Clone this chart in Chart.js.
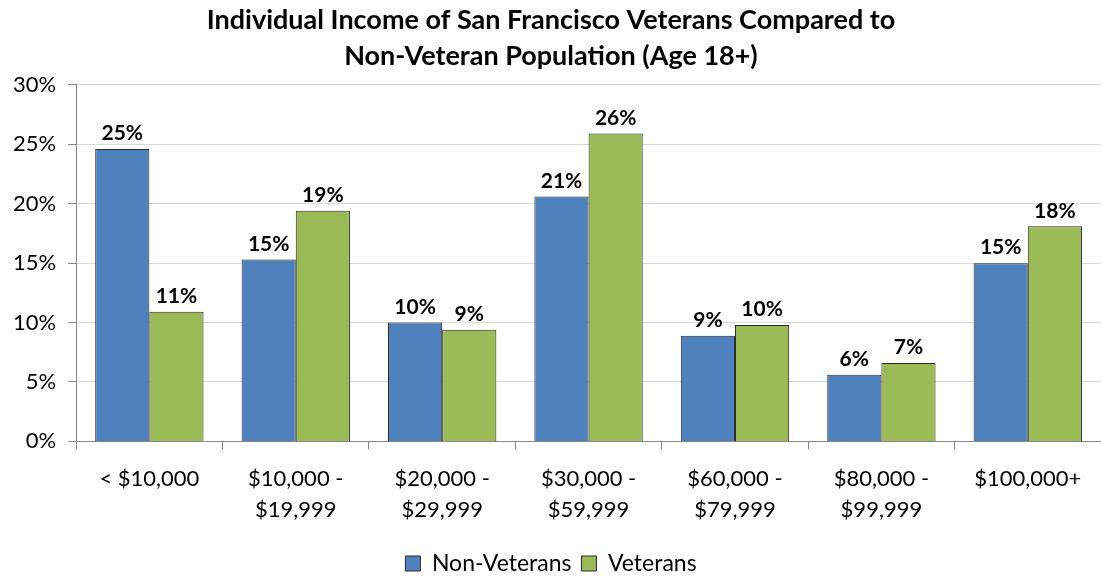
<!DOCTYPE html>
<html>
<head>
<meta charset="utf-8">
<script src="https://cdn.jsdelivr.net/npm/chart.js@4"></script>
<style>
  html, body { margin: 0; padding: 0; background: #fff; }
  #wrap { width: 1101px; height: 577px; }
</style>
</head>
<body>
<div id="wrap"><canvas id="incomeChart"></canvas></div>
<script>
// income brackets and share of each population (%)
const brackets = [
    "< $10,000",
    ["$10,000 -", "$19,999"],
    ["$20,000 -", "$29,999"],
    ["$30,000 -", "$59,999"],
    ["$60,000 -", "$79,999"],
    ["$80,000 -", "$99,999"],
    "$100,000+"
];
const nonVeterans = [24.6, 15.3, 10.0, 20.6, 8.9, 5.6, 15.0];
const veterans = [10.9, 19.4, 9.4, 25.9, 9.8, 6.6, 18.1];
const yTicks = [0, 5, 10, 15, 20, 25, 30];

const FONT = "Lato, 'Open Sans', sans-serif";

// write the rounded percentage above each bar
const barLabels = {
    id: "barLabels",
    afterDatasetsDraw(chart) {
        const ctx = chart.ctx;
        ctx.save();
        ctx.font = "bold 21px " + FONT;
        ctx.fillStyle = "#000";
        ctx.textAlign = "center";
        ctx.textBaseline = "bottom";
        chart.data.datasets.forEach((ds, i) => {
            chart.getDatasetMeta(i).data.forEach((bar, j) => {
                ctx.fillText(Math.round(ds.data[j]) + "%", bar.x, bar.y - 5);
            });
        });
        ctx.restore();
    }
};

const ctx = document.getElementById("incomeChart").getContext("2d");
new Chart(ctx, {
    type: "bar",
    data: {
        labels: brackets,
        datasets: [{
            label: "Non-Veterans",
            data: nonVeterans,
            backgroundColor: "#4F81BD",
            borderColor: "#2b2b2b",
            borderWidth: 1
        }, {
            label: "Veterans",
            data: veterans,
            backgroundColor: "#9BBB59",
            borderColor: "#2b2b2b",
            borderWidth: 1
        }]
    },
    options: {
        responsive: true,
        maintainAspectRatio: false,
        animation: false,
        layout: { padding: { left: 1, right: 0, top: 0, bottom: -8 } },
        datasets: {
            bar: { categoryPercentage: 0.74, barPercentage: 1.0 }
        },
        scales: {
            x: {
                grid: {
                    display: true,
                    drawOnChartArea: false,
                    offset: true,
                    color: "#868686",
                    tickLength: 8
                },
                border: { color: "#868686" },
                ticks: {
                    color: "#000",
                    font: { family: FONT, size: 22, lineHeight: 1.4 },
                    padding: 14,
                    maxRotation: 0,
                    autoSkip: false
                },
                // leave room between the bracket labels and the legend
                afterFit(scale) { scale.height += 3; }
            },
            y: {
                min: 0,
                max: 30,
                afterBuildTicks(axis) {
                    axis.ticks = yTicks.map(v => ({ value: v }));
                },
                grid: { color: "#d9d9d9", tickColor: "#868686", tickLength: 8 },
                border: { color: "#868686" },
                ticks: {
                    color: "#000",
                    font: { family: FONT, size: 22 },
                    padding: 12,
                    callback: v => v + "%"
                }
            }
        },
        plugins: {
            title: {
                display: true,
                text: ["Individual Income of San Francisco Veterans Compared to", "Non-Veteran Population (Age 18+)"],
                color: "#000",
                font: { family: FONT, size: 27, weight: "bold", lineHeight: 1.35 },
                padding: { top: 2, bottom: 10 }
            },
            legend: {
                position: "bottom",
                labels: {
                    color: "#000",
                    font: { family: FONT, size: 23 },
                    boxWidth: 15,
                    boxHeight: 15,
                    padding: 10
                }
            },
            tooltip: { enabled: false }
        }
    },
    plugins: [barLabels]
});
</script>
</body>
</html>
